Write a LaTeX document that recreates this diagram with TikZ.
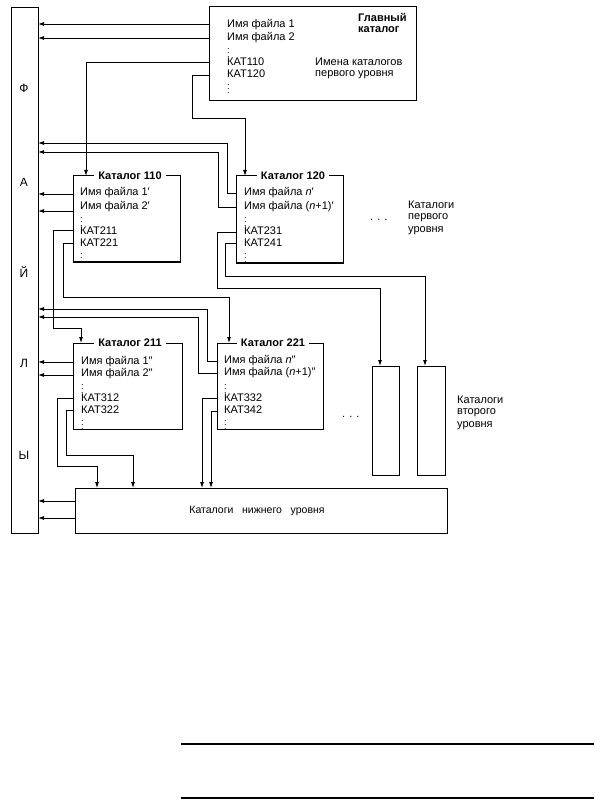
\documentclass[tikz,border=0pt]{standalone}
\usepackage{fontspec}
\setmainfont{Liberation Sans}
\usetikzlibrary{arrows.meta}
\begin{document}
\begin{tikzpicture}[x=1pt,y=-1pt,
  box/.style={draw, line width=1pt, inner sep=0pt, outer sep=0pt, anchor=north west},
  arr/.style={line width=0.85pt, -{Latex[length=6pt,width=4pt]}},
  txt/.style={anchor=west, inner sep=0pt, font=\fontsize{11}{12}\selectfont},
  ttl/.style={fill=white, inner xsep=4pt, inner ysep=1pt, font=\fontsize{11}{12}\selectfont\bfseries},
  vd/.style={anchor=west, inner sep=0pt, font=\small},
  lett/.style={inner sep=0pt, font=\fontsize{12}{12}\selectfont}]
\useasboundingbox (0,0) rectangle (594,799);

% side bar
\node[box, minimum width=27pt, minimum height=525pt] (bar) at (11,8) {};
\node[lett] (l1) at (24,88) {Ф};
\node[lett] (l2) at (24,182) {А};
\node[lett] (l3) at (24,272) {Й};
\node[lett] (l4) at (24,363) {Л};
\node[lett] (l5) at (24,455) {Ы};

% main catalog
\node[box, minimum width=207pt, minimum height=94pt] (main) at (209,7) {};
\node[txt] (m1) at (227,25) {Имя файла 1};
\node[txt] (m2) at (227,38) {Имя файла 2};
\node[vd] (m3) at (227,50) {$\vdots$};
\node[txt] (m4) at (227,62) {КАТ110};
\node[txt] (m5) at (227,74) {КАТ120};
\node[vd] (m6) at (227,86) {$\vdots$};
\node[txt, font=\fontsize{11}{12}\selectfont\bfseries] (m7) at (358,17) {Главный};
\node[txt, font=\fontsize{11}{12}\selectfont\bfseries] (m8) at (358,30) {каталог};
\node[txt] (m9) at (315,62) {Имена каталогов};
\node[txt] (m10) at (315,75) {первого уровня};

% catalog 110
\node[box, minimum width=107pt, minimum height=86pt] (b110) at (73,176) {};
\node[ttl] (t110) at (130,176) {Каталог 110};
\node[txt] (a1) at (80,193) {Имя файла 1′};
\node[txt] (a2) at (80,207) {Имя файла 2′};
\node[vd] (a3) at (80,219) {$\vdots$};
\node[txt] (a4) at (80,231) {КАТ211};
\node[txt] (a5) at (80,243) {КАТ221};
\node[vd] (a6) at (80,255) {$\vdots$};

% catalog 120
\node[box, minimum width=107pt, minimum height=87pt] (b120) at (236,176) {};
\node[ttl] (t120) at (293,176) {Каталог 120};
\node[txt] (c1) at (244,193) {Имя файла \textit{n}′};
\node[txt] (c2) at (244,207) {Имя файла (\textit{n}+1)′};
\node[vd] (c3) at (244,219) {$\vdots$};
\node[txt] (c4) at (244,231) {КАТ231};
\node[txt] (c5) at (244,243) {КАТ241};
\node[vd] (c6) at (244,255) {$\vdots$};

\node[txt] (d1) at (370,220) {. . .};
\node[txt] (k1) at (408,205) {Каталоги};
\node[txt] (k2) at (408,218) {первого};
\node[txt] (k3) at (408,231) {уровня};

% catalog 211
\node[box, minimum width=109pt, minimum height=86pt] (b211) at (73,343) {};
\node[ttl] (t211) at (130,343) {Каталог 211};
\node[txt] (e1) at (81,362) {Имя файла 1″};
\node[txt] (e2) at (81,374) {Имя файла 2″};
\node[vd] (e3) at (81,386) {$\vdots$};
\node[txt] (e4) at (81,398) {КАТ312};
\node[txt] (e5) at (81,410) {КАТ322};
\node[vd] (e6) at (81,422) {$\vdots$};

% catalog 221
\node[box, minimum width=106pt, minimum height=86pt] (b221) at (217,343) {};
\node[ttl] (t221) at (273,343) {Каталог 221};
\node[txt] (f1) at (224,361) {Имя файла \textit{n}″};
\node[txt] (f2) at (224,373) {Имя файла (\textit{n}+1)″};
\node[vd] (f3) at (224,386) {$\vdots$};
\node[txt] (f4) at (224,398) {КАТ332};
\node[txt] (f5) at (224,410) {КАТ342};
\node[vd] (f6) at (224,422) {$\vdots$};

\node[txt] (d2) at (342,417) {. . .};

% second level
\node[box, minimum width=27pt, minimum height=109pt] (s1) at (372,366) {};
\node[box, minimum width=28pt, minimum height=109pt] (s2) at (417,366) {};
\node[txt] (g1) at (457,400) {Каталоги};
\node[txt] (g2) at (457,413) {второго};
\node[txt] (g3) at (457,426) {уровня};

% lower level
\node[box, minimum width=372pt, minimum height=45pt] (low) at (75,488) {};
\node[inner sep=0pt, font=\fontsize{10.5}{12}\selectfont] (lowt) at (257,511) {Каталоги\ \ \ нижнего\ \ \ уровня};

% connectors: main
\draw[arr] (main.west |- 0,24) -- (bar.east |- 0,24);
\draw[arr] (main.west |- 0,38) -- (bar.east |- 0,38);
\draw[arr] (main.west |- 0,62) -| (b110.north -| 86,0);
\draw[arr] (main.west |- 0,75) -| (192,118) -| (b120.north -| 245,0);

% catalog 110
\draw[arr] (b110.west |- 0,194) -- (bar.east |- 0,194);
\draw[arr] (b110.west |- 0,211) -- (bar.east |- 0,211);
\draw[arr] (b110.west |- 0,230) -| (53,328) -| (b211.north -| 81,0);
\draw[arr] (b110.west |- 0,243) -| (63,297) -| (b221.north -| 229,0);

% catalog 120
\draw[arr] (b120.west |- 0,193) -| (227,143) -- (bar.east |- 0,143);
\draw[arr] (b120.west |- 0,207) -| (218,152) -- (bar.east |- 0,152);
\draw[arr] (b120.west |- 0,232) -| (217,288) -| (s1.north -| 380,0);
\draw[arr] (b120.west |- 0,243) -| (225,276) -| (s2.north -| 425,0);

% catalog 211
\draw[arr] (b211.west |- 0,362) -- (bar.east |- 0,362);
\draw[arr] (b211.west |- 0,375) -- (bar.east |- 0,375);
\draw[arr] (b211.west |- 0,398) -| (57,466) -| (low.north -| 97,0);
\draw[arr] (b211.west |- 0,410) -| (66,455) -| (low.north -| 133,0);

% catalog 221
\draw[arr] (b221.west |- 0,361) -| (207,309) -- (bar.east |- 0,309);
\draw[arr] (b221.west |- 0,373) -| (198,317) -- (bar.east |- 0,317);
\draw[arr] (b221.west |- 0,398) -| (low.north -| 202,0);
\draw[arr] (b221.west |- 0,411) -| (low.north -| 211,0);

% lower level
\draw[arr] (low.west |- 0,501) -- (bar.east |- 0,501);
\draw[arr] (low.west |- 0,518) -- (bar.east |- 0,518);

% rules at the bottom
\coordinate (r1a) at (181,744); \coordinate (r1b) at (594,744);
\coordinate (r2a) at (181,798); \coordinate (r2b) at (594,798);
\draw[line width=1.2pt] (r1a) -- (r1b);
\draw[line width=1.2pt] (r2a) -- (r2b);
\end{tikzpicture}
\end{document}
